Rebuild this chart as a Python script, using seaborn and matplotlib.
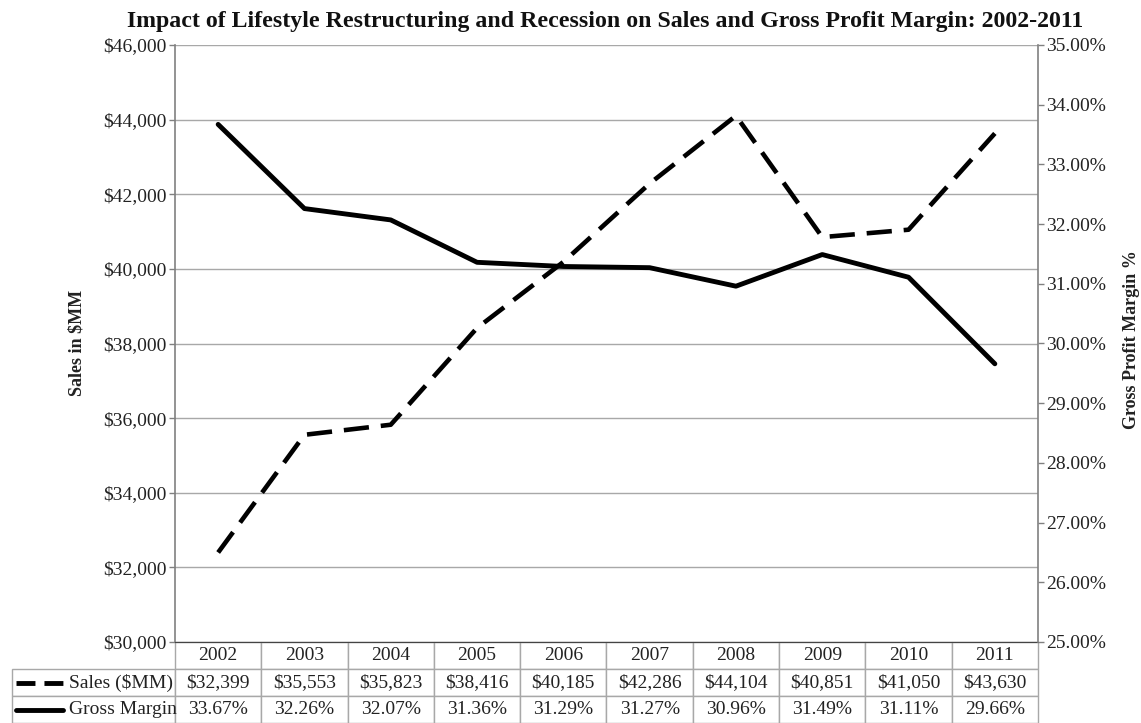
import matplotlib
matplotlib.use("Agg")
import matplotlib.pyplot as plt
import matplotlib.ticker as mtick
from matplotlib.lines import Line2D
import seaborn as sns
import pandas as pd

years = ["2002", "2003", "2004", "2005", "2006", "2007", "2008", "2009", "2010", "2011"]
sales = [32399, 35553, 35823, 38416, 40185, 42286, 44104, 40851, 41050, 43630]
margin = [33.67, 32.26, 32.07, 31.36, 31.29, 31.27, 30.96, 31.49, 31.11, 29.66]
row_labels = ["Sales ($MM)", "Gross Margin"]

df = pd.DataFrame({"idx": range(len(years)), "year": years, "sales": sales, "margin": margin})

sns.set_style("white")
plt.rcParams["font.family"] = ["Liberation Serif", "DejaVu Serif"]

W, H = 1141, 723
L, R, T, B = 175, 1038, 45, 642
fig = plt.figure(figsize=(W / 100, H / 100), dpi=100)
ax = fig.add_axes([L / W, 1 - B / H, (R - L) / W, (B - T) / H])
ax2 = ax.twinx()

grid_col = "#a8a8a8"
spine_col = "#808080"
txt_col = "#222222"

sns.lineplot(data=df, x="idx", y="sales", ax=ax, color="black", linewidth=3.3)
ax.lines[0].set_dashes([5.5, 2.6])
sns.lineplot(data=df, x="idx", y="margin", ax=ax2, color="black", linewidth=3.5)

ax.set_xlim(-0.5, len(years) - 0.5)
ax.set_ylim(30000, 46000)
ax.set_yticks(range(30000, 46001, 2000))
ax.yaxis.set_major_formatter(mtick.FuncFormatter(lambda v, p: f"${v:,.0f}"))
ax2.set_ylim(25, 35)
ax2.set_yticks(range(25, 36))
ax2.yaxis.set_major_formatter(mtick.FuncFormatter(lambda v, p: f"{v:.2f}%"))

ax.set_xticks([])
ax.set_xlabel("")
ax2.set_xlabel("")
ax.set_ylabel("")
ax2.set_ylabel("")
ax.yaxis.grid(True, color=grid_col, linewidth=1)
ax.set_axisbelow(True)

for a in (ax, ax2):
    for s in a.spines.values():
        s.set_visible(False)
    a.tick_params(axis="y", labelsize=14, labelcolor=txt_col, color=spine_col,
                  length=4, width=1, direction="out", pad=2)
ax.spines["left"].set_visible(True)
ax.spines["left"].set_color(spine_col)
ax.spines["left"].set_linewidth(1.2)
ax2.spines["right"].set_visible(True)
ax2.spines["right"].set_color(spine_col)
ax2.spines["right"].set_linewidth(1.2)
ax.spines["bottom"].set_visible(True)
ax.spines["bottom"].set_color("#444444")
ax.tick_params(axis="y", left=True)
ax2.tick_params(axis="y", right=True)

fig.text(77 / W, 1 - 343 / H, "Sales in $MM", rotation=90, ha="center", va="center",
         fontsize=13, fontweight="bold", color=txt_col)
fig.text(1131 / W, 1 - 340 / H, "Gross Profit Margin %", rotation=90, ha="center", va="center",
         fontsize=13, fontweight="bold", color=txt_col)
fig.text(605 / W, 1 - 27 / H,
         "Impact of Lifestyle Restructuring and Recession on Sales and Gross Profit Margin: 2002-2011",
         ha="center", va="baseline", fontsize=17.2, fontweight="bold", color="#111111")

# data table below the plot; first column (x 12..175 px) holds the row labels
pw, ph = R - L, B - T
lab_w = (L - 12) / pw
tb_h = 81 / ph
cell_text = [[""] + [f"${v:,}" for v in sales], [""] + [f"{v:.2f}%" for v in margin]]
tbl = ax.table(cellText=cell_text, colLabels=[""] + years, cellLoc="center",
               bbox=[-lab_w, -tb_h, 1 + lab_w, tb_h])
tbl.auto_set_font_size(False)
tbl.set_fontsize(14)
for (r, c), cell in tbl.get_celld().items():
    cell.set_edgecolor(grid_col)
    cell.set_linewidth(1)
    cell.get_text().set_color(txt_col)
    cell.set_width(lab_w if c == 0 else 1 / len(years))
    if r == 0 and c == 0:
        cell.visible_edges = ""

# row labels with line keys (rows: header, sales, gross margin)
row_y = [-tb_h * 0.5, -tb_h * (5 / 6)]
key_x0 = (16 - L) / pw
key_x1 = (63 - L) / pw
lab_x = (69 - L) / pw
ax.add_line(Line2D([key_x0, key_x1], [row_y[0]] * 2, transform=ax.transAxes,
                   color="black", linewidth=3.5, dashes=[3.9, 1.85], clip_on=False))
ax.add_line(Line2D([key_x0, key_x1], [row_y[1]] * 2, transform=ax.transAxes,
                   color="black", linewidth=3.5, clip_on=False))
for y, lab in zip(row_y, row_labels):
    ax.text(lab_x, y, lab, transform=ax.transAxes, ha="left", va="center",
            fontsize=14, color=txt_col)

fig.savefig("out.png", dpi=100)
